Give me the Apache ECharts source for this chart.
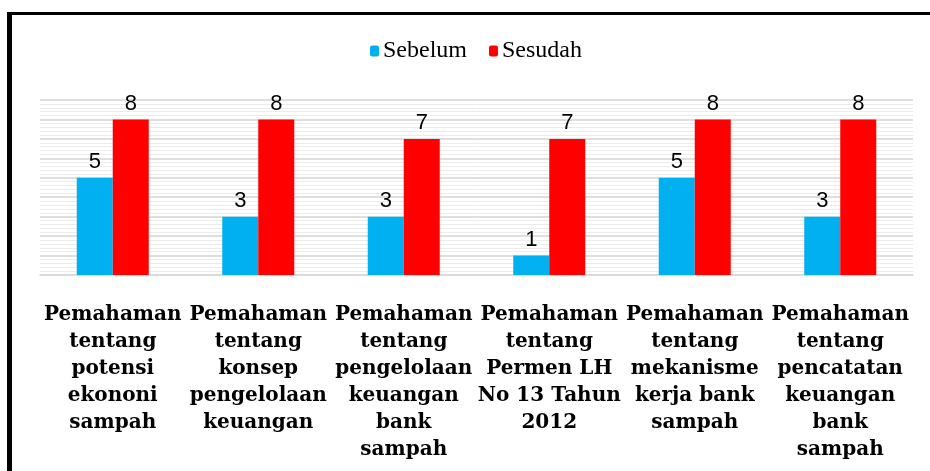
<!DOCTYPE html>
<html>
<head>
<meta charset="utf-8">
<script src="https://cdn.jsdelivr.net/npm/echarts@6/dist/echarts.min.js"></script>
<style>
  html, body { margin: 0; padding: 0; background: #fff; }
  #chart { width: 930px; height: 471px; }
</style>
</head>
<body>
<div id="chart"></div>
<script>
  // kategori (label sumbu x)
  const categories = [
    'Pemahaman\ntentang\npotensi\nekononi\nsampah',
    'Pemahaman\ntentang\nkonsep\npengelolaan\nkeuangan',
    'Pemahaman\ntentang\npengelolaan\nkeuangan\nbank\nsampah',
    'Pemahaman\ntentang\nPermen LH\nNo 13 Tahun\n2012',
    'Pemahaman\ntentang\nmekanisme\nkerja bank\nsampah',
    'Pemahaman\ntentang\npencatatan\nkeuangan\nbank\nsampah'
  ]
  const sebelum = [5, 3, 3, 1, 5, 3]
  const sesudah = [8, 8, 7, 7, 8, 8]

  const valueLabel = {
    show: true,
    position: 'top',
    distance: 5,
    color: '#000',
    fontFamily: 'Liberation Sans, sans-serif',
    fontSize: 22
  }

  let chart = echarts.init(document.getElementById('chart'))
  chart.setOption({
    animation: false,
    graphic: [
      { type: 'rect', shape: { x: 7, y: 12, width: 930, height: 3 }, style: { fill: '#000' } },
      { type: 'rect', shape: { x: 7, y: 12, width: 5, height: 470 }, style: { fill: '#000' } }
    ],
    legend: {
      left: 365,
      top: 34,
      itemWidth: 9,
      itemHeight: 11,
      itemGap: 22,
      textStyle: {
        fontFamily: 'Liberation Serif',
        fontSize: 24,
        color: '#000',
        padding: [0, 0, 0, -1]
      },
      data: ['Sebelum', 'Sesudah']
    },
    grid: {
      left: 40,
      right: 17,
      top: 100,
      bottom: 196
    },
    xAxis: {
      type: 'category',
      data: categories,
      axisTick: { show: false },
      axisLine: { lineStyle: { color: '#d9d9d9', width: 1.5 } },
      axisLabel: {
        interval: 0,
        margin: 26,
        color: '#000',
        fontFamily: 'DejaVu Serif',
        fontWeight: 'bold',
        fontSize: 20,
        lineHeight: 27
      }
    },
    yAxis: {
      type: 'value',
      min: 0,
      max: 9,
      interval: 1,
      axisLabel: { show: false },
      axisLine: { show: false },
      axisTick: { show: false },
      splitLine: { lineStyle: { color: '#d4d4d4', width: 1.5 } },
      minorTick: { show: false, splitNumber: 5 },
      minorSplitLine: { show: true, lineStyle: { color: '#ececec', width: 1 } }
    },
    series: [
      {
        name: 'Sebelum',
        type: 'bar',
        data: sebelum,
        barWidth: 36,
        barGap: '0%',
        itemStyle: { color: '#00B0F0' },
        label: valueLabel
      },
      {
        name: 'Sesudah',
        type: 'bar',
        data: sesudah,
        barWidth: 36,
        itemStyle: { color: '#FF0000' },
        label: valueLabel
      }
    ]
  })
</script>
</body>
</html>
